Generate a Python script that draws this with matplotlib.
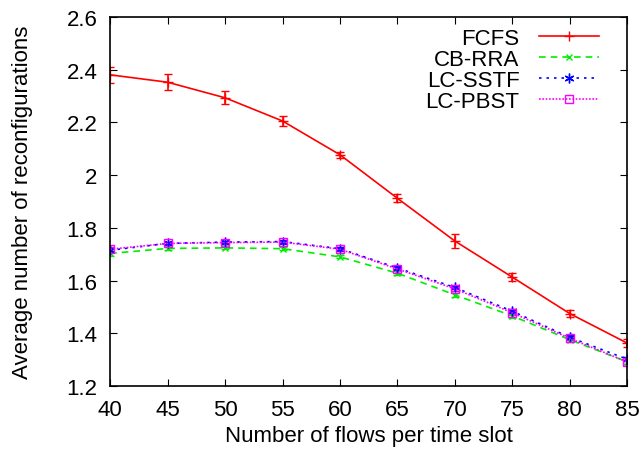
import matplotlib
matplotlib.use("Agg")
import matplotlib.pyplot as plt
from matplotlib.lines import Line2D

plt.rcParams['font.family'] = ['Liberation Sans', 'DejaVu Sans']

flows = [40, 45, 50, 55, 60, 65, 70, 75, 80, 85]

fcfs = [2.380, 2.352, 2.293, 2.205, 2.077, 1.912, 1.750, 1.613, 1.475, 1.363]
fcfs_err = [0.030, 0.030, 0.025, 0.020, 0.012, 0.015, 0.025, 0.015, 0.012, 0.015]

cbrra = [1.703, 1.722, 1.724, 1.721, 1.690, 1.628, 1.546, 1.466, 1.376, 1.292]
cbrra_err = [0.008, 0.006, 0.006, 0.006, 0.006, 0.007, 0.007, 0.007, 0.007, 0.008]

lcsstf = [1.715, 1.741, 1.746, 1.748, 1.721, 1.648, 1.574, 1.484, 1.385, 1.302]
lcsstf_err = [0.008, 0.006, 0.006, 0.006, 0.006, 0.007, 0.007, 0.007, 0.007, 0.008]

lcpbst = [1.719, 1.741, 1.744, 1.746, 1.719, 1.644, 1.569, 1.478, 1.381, 1.292]
lcpbst_err = [0.008, 0.006, 0.006, 0.006, 0.006, 0.007, 0.007, 0.007, 0.007, 0.008]

names = ['FCFS', 'CB-RRA', 'LC-SSTF', 'LC-PBST']
colors = ['#ff0000', '#00ee00', '#0000ff', '#ff00ff']
styles = ['-', (0, (4, 3)), (0, (1.5, 3)), (0, (1, 1))]
markers = ['+', 'x', (6, 2, 0), 's']
sizes = [7, 5, 7, 6]

fig = plt.figure(figsize=(6.44, 4.56), dpi=100)
ax = fig.add_axes([0.171, 0.151, 0.803, 0.810])

handles = []
series = [(fcfs, fcfs_err), (cbrra, cbrra_err), (lcsstf, lcsstf_err), (lcpbst, lcpbst_err)]
for (vals, errs), name, c, ls, m, ms in zip(series, names, colors, styles, markers, sizes):
    mfc = 'none' if m == 's' else c
    ax.errorbar(flows, vals, yerr=errs, color=c, ls=ls, lw=1.2, marker=m, ms=ms,
                mfc=mfc, capsize=3, elinewidth=1.2)
    handles.append(Line2D([0, 0.5, 1], [0, 0, 0], color=c, ls=ls, lw=1.2, marker=m, ms=ms,
                          mfc=mfc, markevery=[1]))

ax.set_xlim(40, 85)
ax.set_ylim(1.2, 2.6)
ax.set_xticks(flows)
ax.set_yticks([1.2, 1.4, 1.6, 1.8, 2.0, 2.2, 2.4, 2.6])
ax.set_yticklabels(['1.2', '1.4', '1.6', '1.8', '2', '2.2', '2.4', '2.6'])
ax.tick_params(direction='in', top=True, right=True, labelsize=16, length=5, pad=9)
for s in ax.spines.values():
    s.set_linewidth(1.2)

ax.set_xlabel('Number of flows per time slot', fontsize=16, labelpad=4)
ax.set_ylabel('Average number of reconfigurations', fontsize=16, labelpad=24)

ax.legend(handles, names, loc='upper right', frameon=False, markerfirst=False, fontsize=16,
          handlelength=2.7, handletextpad=0.9, labelspacing=0.0,
          bbox_to_anchor=(0.985, 1.025), borderpad=0.4)

fig.savefig('out.png', dpi=100)
